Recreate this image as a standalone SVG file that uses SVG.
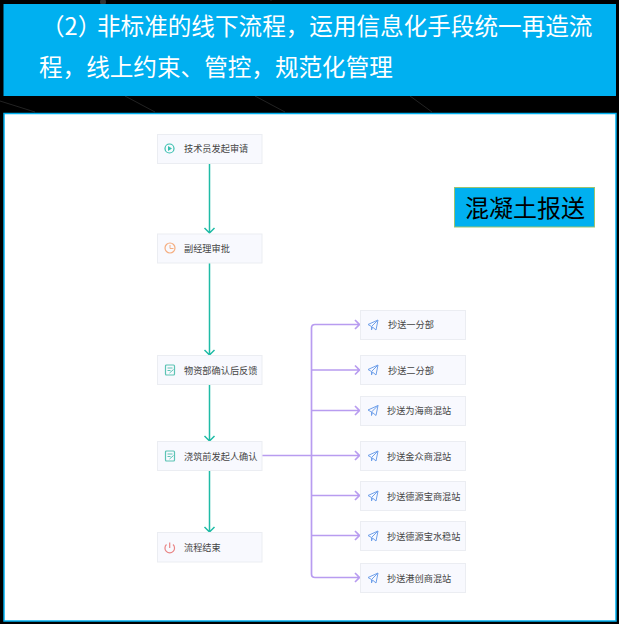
<svg xmlns="http://www.w3.org/2000/svg" width="619" height="624" viewBox="0 0 619 624">
<style>
text{font-family:"Noto Sans CJK SC","Liberation Sans",sans-serif}
.n{fill:#f8f9fe;stroke:#ebedf2;stroke-width:1}
.t{font-size:9.200px;fill:#444}
.h{font-size:23.600px;fill:#fff}
.g{fill:none;stroke:#1fbba6;stroke-width:1.500}
.p{fill:none;stroke:#b89cf0;stroke-width:1.700}
.s{fill:none;stroke:#6fa0ea;stroke-width:1}
</style>
<defs>
<g id="send"><path class="s" d="M0 4.500L10 0L8 10L4.500 7L3.500 10V6.500L0 4.500ZM10 0L3.500 6.500"/></g>
<g id="form"><rect x="0" y="0" width="9" height="10" rx="1" fill="none" stroke="#5cc4b4" stroke-width="1.200"/><path d="M2 3H7M2 5.500H5M4 8L8 4.500" fill="none" stroke="#5cc4b4" stroke-width="1"/></g>
</defs>
<rect width="619" height="624" fill="#000"/>
<g fill="none" stroke="#222" stroke-width="1"><path d="M0 101L35 112M125 96L155 112M255 96L285 112M410 96L432 112M270 0H272"/></g>
<circle cx="103" cy="2" r="3" fill="#333"/>
<g id="header">
<rect x="3.500" y="4" width="612.500" height="92" fill="#00b0f0"/>
<text class="h" y="35"><tspan x="41">（2）</tspan><tspan x="97">非标准的线下流程，运用信息化手段统一再造流</tspan></text>
<text class="h" x="39" y="76">程，线上约束、管控，规范化管理</text>
</g>
<rect id="panel" x="4" y="113.500" width="612" height="507.500" fill="#fff" stroke="#00b0f0" stroke-width="1.500"/>
<g id="connectors">
<path class="g" d="M209.500 164V233M204.500 228L209.500 233L214.500 228"/>
<path class="g" d="M209.500 263V355M204.500 350L209.500 355L214.500 350"/>
<path class="g" d="M209.500 385V441M204.500 436L209.500 441L214.500 436"/>
<path class="g" d="M209.500 471V532M204.500 527L209.500 532L214.500 527"/>
<path class="p" d="M262 455.500H359M355 451L359.500 455.500L355 460"/>
<path class="p" d="M311.500 455.500V328Q311.500 324.500 315 324.500H359M355 320L359.500 324.500L355 329"/>
<path class="p" d="M311.500 370H359M355 365.500L359.500 370L355 374.500"/>
<path class="p" d="M311.500 410.500H359M355 406L359.500 410.500L355 415"/>
<path class="p" d="M311.500 455.500V574Q311.500 577.500 315 577.500H359M355 573L359.500 577.500L355 582"/>
<path class="p" d="M311.500 495.500H359M355 491L359.500 495.500L355 500"/>
<path class="p" d="M311.500 535.500H359M355 531L359.500 535.500L355 540"/>
</g>
<g id="n1"><rect class="n" x="157.500" y="134.500" width="104.500" height="29"/>
<circle cx="169.500" cy="148.500" r="4.500" fill="none" stroke="#37bfae" stroke-width="1.200"/><path d="M168 146L172 148.500L168 151Z" fill="#37bfae"/>
<text class="t" x="184" y="152">技术员发起审请</text></g>
<g id="n2"><rect class="n" x="157.500" y="234" width="104.500" height="29"/>
<circle cx="170" cy="248" r="5" fill="none" stroke="#f5ae80" stroke-width="1.200"/><path d="M170 245V248.500H173.500" fill="none" stroke="#f5ae80"/>
<text class="t" x="184" y="252">副经理审批</text></g>
<g id="n3"><rect class="n" x="157.500" y="355.500" width="104.500" height="29"/>
<use href="#form" x="165.500" y="365"/>
<text class="t" x="184" y="373.500">物资部确认后反馈</text></g>
<g id="n4"><rect class="n" x="157.500" y="441.500" width="104.500" height="29"/>
<use href="#form" x="165.500" y="451"/>
<text class="t" x="184" y="459.500">浇筑前发起人确认</text></g>
<g id="n5"><rect class="n" x="157.500" y="532.500" width="104.500" height="29.500"/>
<path d="M166.500 544.500A4.800 4.800 0 1 0 173 544.500M169.700 542.500V548" fill="none" stroke="#e98585" stroke-width="1.200"/>
<text class="t" x="184" y="551">流程结束</text></g>
<g id="r1"><rect class="n" x="360.500" y="310.500" width="105" height="29"/><use href="#send" x="368" y="320"/><text class="t" x="388" y="328">抄送一分部</text></g>
<g id="r2"><rect class="n" x="360.500" y="355.500" width="105" height="29"/><use href="#send" x="368" y="365"/><text class="t" x="388" y="373.500">抄送二分部</text></g>
<g id="r3"><rect class="n" x="360.500" y="396.500" width="105" height="29"/><use href="#send" x="368" y="405.500"/><text class="t" x="387" y="414">抄送为海商混站</text></g>
<g id="r4"><rect class="n" x="360.500" y="441.500" width="105" height="29"/><use href="#send" x="368" y="451"/><text class="t" x="387" y="459.500">抄送金众商混站</text></g>
<g id="r5"><rect class="n" x="360.500" y="481.500" width="105" height="29"/><use href="#send" x="368" y="491"/><text class="t" x="387" y="499.500">抄送德源宝商混站</text></g>
<g id="r6"><rect class="n" x="360.500" y="521.500" width="105" height="29"/><use href="#send" x="368" y="531"/><text class="t" x="387" y="539.500">抄送德源宝水稳站</text></g>
<g id="r7"><rect class="n" x="360.500" y="563.500" width="105" height="29"/><use href="#send" x="368" y="573"/><text class="t" x="387" y="581.500">抄送港创商混站</text></g>
<g id="tag"><rect x="454.500" y="187.500" width="140" height="39.500" fill="#00b0f0" stroke="#9bc36f" stroke-width="1"/>
<text x="465" y="217" font-size="24" fill="#000">混凝土报送</text></g>
</svg>
